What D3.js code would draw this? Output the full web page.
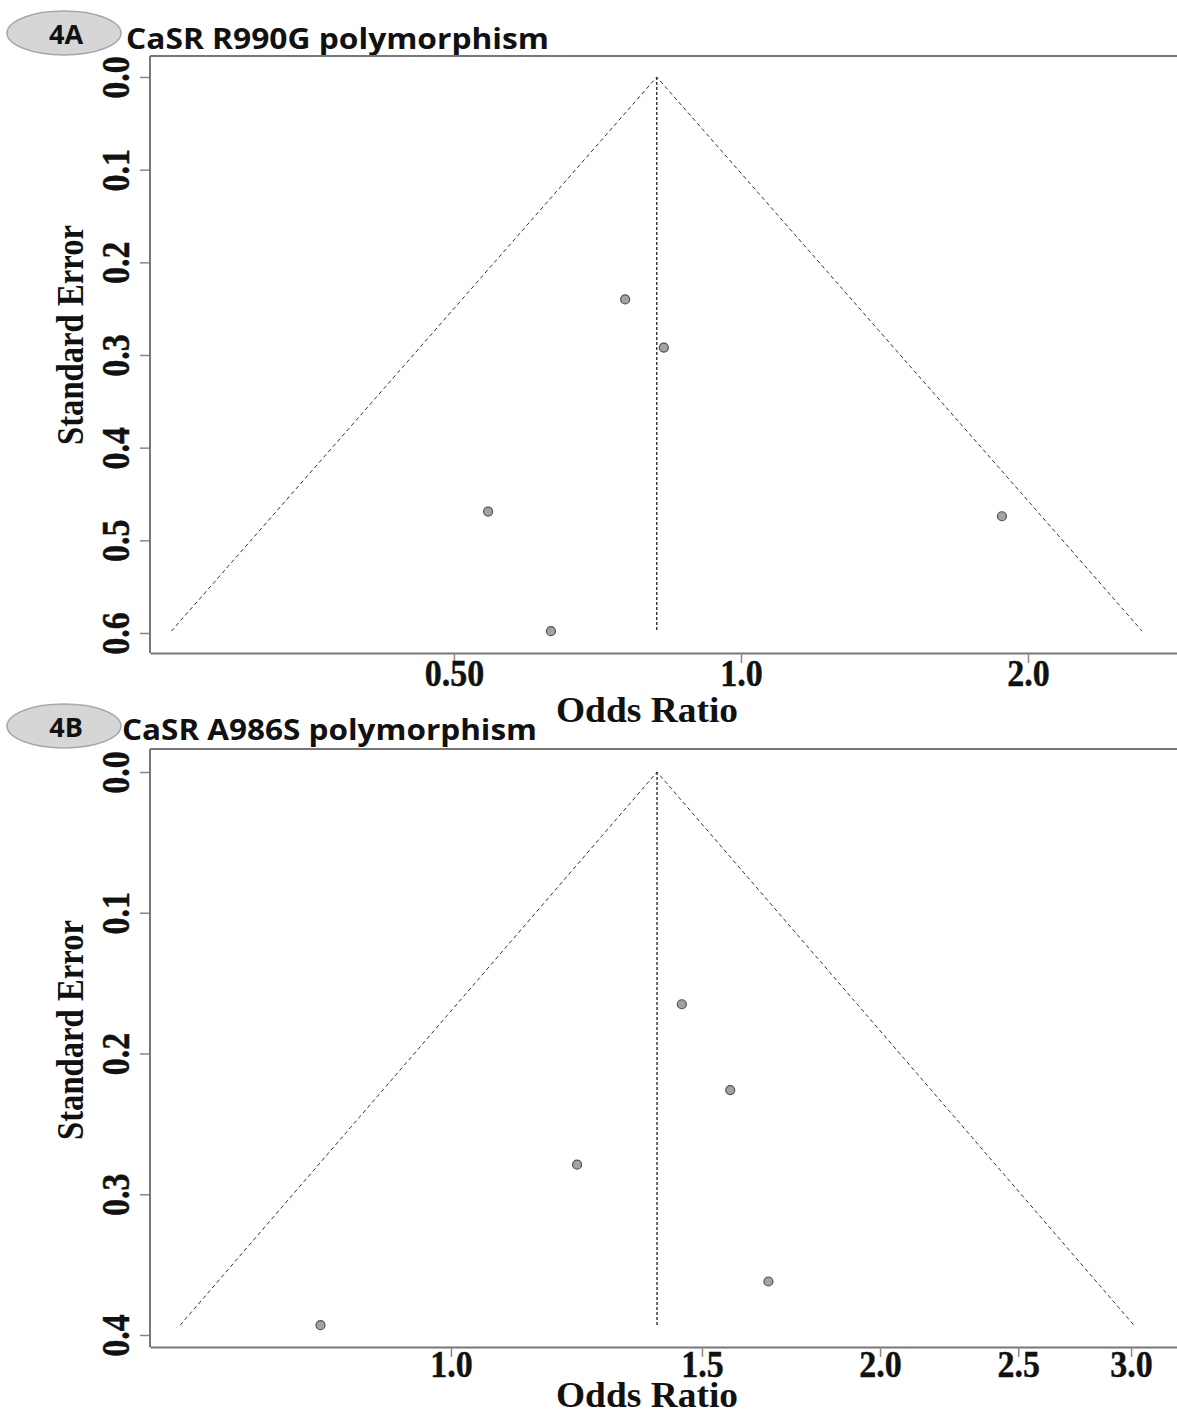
<!DOCTYPE html>
<html>
<head>
<meta charset="utf-8">
<script src="https://cdn.jsdelivr.net/npm/d3@7"></script>
<style>
    body { margin: 0; background: #fff; }
    svg { display: block; }
</style>
</head>
<body>
<div id="chart"></div>
<script>

// panel A : CaSR R990G
var orA = [0.756, 0.830, 0.543, 1.878, 0.632];
var seA = [0.240, 0.292, 0.469, 0.474, 0.598];
var pooledA = 0.816;
var xTicksA = [0.5, 1.0, 2.0];
var xLabelsA = ["0.50", "1.0", "2.0"];
var yTicksA = [0.0, 0.1, 0.2, 0.3, 0.4, 0.5, 0.6];

// panel B : CaSR A986S
var orB = [1.452, 1.570, 1.226, 1.670, 0.810];
var seB = [0.165, 0.226, 0.279, 0.362, 0.393];
var pooledB = 1.395;
var xTicksB = [1.0, 1.5, 2.0, 2.5, 3.0];
var xLabelsB = ["1.0", "1.5", "2.0", "2.5", "3.0"];
var yTicksB = [0.0, 0.1, 0.2, 0.3, 0.4];

var width = 1177;
var height = 1414;

var serif = "'Liberation Serif', 'Times New Roman', serif";

var svg = d3.select("#chart")
    .append("svg")
    .attr("width", width)
    .attr("height", height);

var panels = [
    {
        tag: "4A", title: "CaSR R990G polymorphism",
        or: orA, se: seA, pooled: pooledA,
        xTicks: xTicksA, xLabels: xLabelsA, yTicks: yTicksA,
        xDomain: [0.24, 2.866], yDomain: [0, 0.6],
        left: 150, right: 1177, top: 56, bottom: 653, y0: 77, y1: 633,
        ellipse: [64, 33], titleX: 126, titleY: 49, titleLen: 423,
        xLabelY: 686, xTitleY: 722, yTitleY: 335
    },
    {
        tag: "4B", title: "CaSR A986S polymorphism",
        or: orB, se: seB, pooled: pooledB,
        xTicks: xTicksB, xLabels: xLabelsB, yTicks: yTicksB,
        xDomain: [0.615, 3.231], yDomain: [0, 0.4],
        left: 150, right: 1177, top: 749, bottom: 1347, y0: 772, y1: 1335,
        ellipse: [64, 726], titleX: 122, titleY: 740, titleLen: 415,
        xLabelY: 1377, xTitleY: 1407, yTitleY: 1030
    }
];

panels.forEach(drawPanel);

function drawPanel(p) {

    var g = svg.append("g");

    var x = d3.scaleLog().domain(p.xDomain).range([p.left, p.right]);
    var y = d3.scaleLinear().domain(p.yDomain).range([p.y0, p.y1]);

    // ellipse badge + title
    g.append("ellipse")
        .attr("cx", p.ellipse[0])
        .attr("cy", p.ellipse[1])
        .attr("rx", 57)
        .attr("ry", 22)
        .attr("fill", "#d6d6d6")
        .attr("stroke", "#a8a8a8")
        .attr("stroke-width", 1.5);

    g.append("text")
        .attr("x", p.ellipse[0] + 2)
        .attr("y", p.ellipse[1] + 11)
        .attr("text-anchor", "middle")
        .style("font-family", "'Open Sans', sans-serif")
        .style("font-weight", "bold")
        .style("font-size", "27px")
        .attr("fill", "#111")
        .text(p.tag);

    g.append("text")
        .attr("x", p.titleX)
        .attr("y", p.titleY)
        .attr("textLength", p.titleLen)
        .attr("lengthAdjust", "spacingAndGlyphs")
        .style("font-family", "'Open Sans', sans-serif")
        .style("font-weight", "bold")
        .style("font-size", "28px")
        .attr("fill", "#111")
        .text(p.title);

    // funnel: pseudo 95% limits around the pooled OR
    var maxSe = d3.max(p.se);
    var lo = p.pooled * Math.exp(-1.96 * maxSe);
    var hi = p.pooled * Math.exp(1.96 * maxSe);

    var funnel = [[lo, maxSe], [p.pooled, 0], [hi, maxSe]];

    g.append("path")
        .attr("d", d3.line()
            .x(function(d) { return x(d[0]); })
            .y(function(d) { return y(d[1]); })(funnel))
        .attr("fill", "none")
        .attr("stroke", "#333")
        .attr("stroke-width", 1)
        .style("stroke-dasharray", ("4, 3"));

    g.append("line")
        .attr("x1", x(p.pooled))
        .attr("x2", x(p.pooled))
        .attr("y1", y(0))
        .attr("y2", y(maxSe))
        .attr("stroke", "#222")
        .attr("stroke-width", 1.3)
        .style("stroke-dasharray", ("3, 2"));

    // study points
    var pts = p.or.map(function(v, i) { return { or: v, se: p.se[i] }; });

    g.selectAll("circle.study")
        .data(pts)
        .join("circle")
        .attr("class", "study")
        .attr("cx", function(d) { return x(d.or); })
        .attr("cy", function(d) { return y(d.se); })
        .attr("r", 4.5)
        .attr("fill", "#a3a3a3")
        .attr("stroke", "#505050")
        .attr("stroke-width", 1.2);

    // frame (top + left + bottom, the right side is cut off)
    g.append("line")
        .attr("x1", p.left).attr("x2", p.right)
        .attr("y1", p.top).attr("y2", p.top)
        .attr("stroke", "#777").attr("stroke-width", 2);

    // x axis
    var xAxis = d3.axisBottom(x)
        .tickValues(p.xTicks)
        .tickFormat(function(d, i) { return p.xLabels[i]; })
        .tickSize(10)
        .tickSizeOuter(0);

    var gx = g.append("g")
        .attr("transform", "translate(0," + p.bottom + ")")
        .call(xAxis);

    gx.select(".domain").attr("stroke", "#777").attr("stroke-width", 2);
    gx.selectAll(".tick line").attr("stroke", "#888").attr("stroke-width", 1.5);
    // labels a bit taller than the plain font, like the original
    gx.selectAll(".tick text")
        .attr("y", null)
        .attr("dy", null)
        .attr("transform", "translate(0," + (p.xLabelY - p.bottom) + ") scale(1,1.1)")
        .style("font-family", serif)
        .style("font-weight", "bold")
        .style("font-size", "34px")
        .attr("fill", "#111")
        .attr("stroke", "#111")
        .attr("stroke-width", 0.4);

    // y axis, labels rotated
    var yAxis = d3.axisLeft(y)
        .tickValues(p.yTicks)
        .tickFormat(d3.format(".1f"))
        .tickSize(10)
        .tickSizeOuter(0);

    var gy = g.append("g")
        .attr("transform", "translate(" + p.left + ",0)")
        .call(yAxis);

    gy.select(".domain").remove();
    gy.selectAll(".tick line").attr("stroke", "#888").attr("stroke-width", 1.5);
    gy.selectAll(".tick text")
        .attr("x", null)
        .attr("dy", null)
        .attr("text-anchor", "middle")
        .attr("transform", "translate(-21,0) rotate(-90) scale(1,1.15)")
        .style("font-family", serif)
        .style("font-weight", "bold")
        .style("font-size", "34px")
        .attr("fill", "#111")
        .attr("stroke", "#111")
        .attr("stroke-width", 0.4);

    g.append("line")
        .attr("x1", p.left).attr("x2", p.left)
        .attr("y1", p.top).attr("y2", p.bottom)
        .attr("stroke", "#777").attr("stroke-width", 2);

    // axis titles
    g.append("text")
        .attr("transform", "translate(647," + p.xTitleY + ") scale(1,1.05)")
        .attr("text-anchor", "middle")
        .attr("textLength", 182)
        .attr("lengthAdjust", "spacingAndGlyphs")
        .style("font-family", serif)
        .style("font-weight", "bold")
        .style("font-size", "35px")
        .attr("fill", "#111")
        .text("Odds Ratio");

    g.append("text")
        .attr("transform", "translate(83," + p.yTitleY + ") rotate(-90) scale(1,1.05)")
        .attr("text-anchor", "middle")
        .attr("textLength", 220)
        .attr("lengthAdjust", "spacingAndGlyphs")
        .style("font-family", serif)
        .style("font-weight", "bold")
        .style("font-size", "36px")
        .attr("fill", "#111")
        .text("Standard Error");
}
</script>
</body>
</html>
